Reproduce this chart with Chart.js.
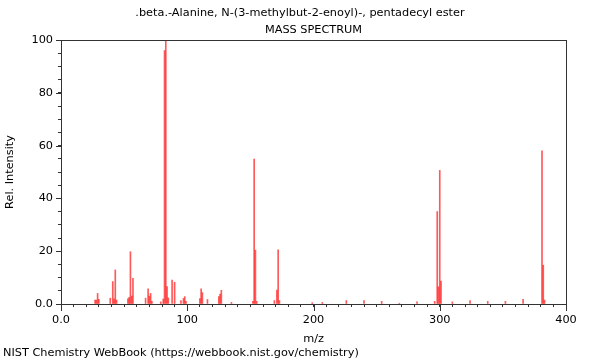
<!DOCTYPE html>
<html>
<head>
<meta charset="utf-8">
<script src="https://cdn.jsdelivr.net/npm/chart.js@4"></script>
<style>
  body { margin: 0; background: #fff; }
  #wrap { width: 600px; height: 360px; position: relative; }
</style>
</head>
<body>
<div id="wrap"><canvas id="spectrum"></canvas></div>
<script>
// peaks (m/z, relative intensity)
var mz = [27, 28, 29, 30, 39, 41, 42, 43, 44, 53, 54, 55, 56, 57, 67, 69, 70, 71, 72, 79,
  81, 82, 83, 84, 85, 88, 90, 95, 97, 98, 99, 110, 111, 112, 116, 125, 126, 127, 135,
  152, 153, 154, 155, 169, 171, 172, 173, 199, 207, 226, 240, 254, 268, 282, 296,
  298, 299, 300, 301, 310, 324, 338, 352, 366, 381, 382, 383];
var intensity = [1.5, 1.5, 4.0, 1.8, 2.2, 8.5, 2.0, 12.9, 1.5, 2.0, 2.5, 19.8, 3.0, 9.7, 2.2, 5.7, 3.0, 4.0, 1.0, 0.8,
  1.9, 96, 100, 6.6, 2.3, 9.1, 8.2, 1.3, 2.1, 2.8, 1.0, 2.1, 5.7, 4.3, 1.7, 2.8, 3.8, 5.2, 0.6,
  1.0, 54.9, 20.4, 1.0, 1.3, 5.3, 20.5, 1.3, 0.5, 0.6, 1.3, 1.3, 1.0, 0.3, 0.8, 1.0,
  35, 6.5, 50.6, 8.7, 0.8, 1.3, 1.0, 1.0, 1.8, 58, 14.7, 1.5];

var titleLines = ['.beta.-Alanine, N-(3-methylbut-2-enoyl)-, pentadecyl ester', 'MASS SPECTRUM'];
var footer = 'NIST Chemistry WebBook (https://webbook.nist.gov/chemistry)';

var peaks = mz.map(function (m, i) { return { x: m, y: intensity[i] }; });

var FONT = 'DejaVu Sans';
var FSIZE = 11.3;
var AXIS = '#333';

// frame, longer major ticks, title and footer
var decor = {
  id: 'decor',
  afterDraw: function (chart) {
    var ctx = chart.ctx;
    var a = chart.chartArea;
    var xs = chart.scales.x, ys = chart.scales.y;
    ctx.save();
    ctx.strokeStyle = AXIS;
    ctx.lineWidth = 1;
    ctx.strokeRect(Math.round(a.left) + 0.5, Math.round(a.top) + 0.5,
      Math.round(a.right - a.left), Math.round(a.bottom - a.top));
    ctx.beginPath();
    for (var v = 0; v <= 400; v += 100) {
      var px = Math.round(xs.getPixelForValue(v)) + 0.5;
      ctx.moveTo(px, a.bottom);
      ctx.lineTo(px, a.bottom + 7);
    }
    for (var w = 0; w <= 100; w += 20) {
      var py = Math.round(ys.getPixelForValue(w)) + 0.5;
      ctx.moveTo(a.left, py);
      ctx.lineTo(a.left - 5, py);
    }
    ctx.stroke();
    ctx.fillStyle = '#000';
    ctx.font = FSIZE + 'px ' + FONT;
    ctx.textAlign = 'center';
    ctx.textBaseline = 'middle';
    ctx.fillText(titleLines[0], 300, 13);
    ctx.fillText(titleLines[1], (a.left + a.right) / 2, 30);
    ctx.textAlign = 'left';
    ctx.fillText(footer, 3, 353);
    ctx.restore();
  }
};

const config = {
  type: 'bar',
  data: {
    datasets: [{
      data: peaks,
      backgroundColor: 'rgba(255, 0, 0, 0.65)',
      borderWidth: 0,
      barThickness: 1,
      grouped: false
    }]
  },
  options: {
    responsive: false,
    animation: false,
    layout: { padding: { left: 3, right: 34, top: 40, bottom: 14 } },
    plugins: {
      legend: { display: false },
      tooltip: { enabled: false }
    },
    scales: {
      x: {
        type: 'linear',
        offset: false,
        min: 0,
        max: 400,
        afterFit: function (s) { s.height = 42; },
        border: { color: AXIS },
        grid: { drawOnChartArea: false, offset: false, tickLength: 3, tickColor: AXIS },
        ticks: {
          stepSize: 10,
          autoSkip: false,
          maxRotation: 0,
          padding: 6,
          color: '#000',
          font: { family: FONT, size: FSIZE },
          callback: function (v) {
            if (v === 0) return '0.0';
            return v % 100 === 0 ? String(v) : '';
          }
        },
        title: {
          display: true,
          text: 'm/z',
          color: '#000',
          font: { family: FONT, size: FSIZE },
          padding: { top: 1, bottom: 0 }
        }
      },
      y: {
        min: 0,
        max: 100,
        afterFit: function (s) { s.width = 58; },
        border: { color: AXIS },
        grid: { drawOnChartArea: false, tickLength: 3, tickColor: AXIS },
        ticks: {
          stepSize: 5,
          autoSkip: false,
          padding: 5,
          color: '#000',
          font: { family: FONT, size: FSIZE },
          callback: function (v) {
            if (v === 0) return '0.0';
            return v % 20 === 0 ? String(v) : '';
          }
        },
        title: {
          display: true,
          text: 'Rel. Intensity',
          color: '#000',
          font: { family: FONT, size: FSIZE },
          padding: { top: 0, bottom: 0 }
        }
      }
    }
  },
  plugins: [decor]
};

var canvas = document.getElementById('spectrum');
canvas.width = 600;
canvas.height = 360;
var chart = new Chart(canvas, config);
</script>
</body>
</html>
